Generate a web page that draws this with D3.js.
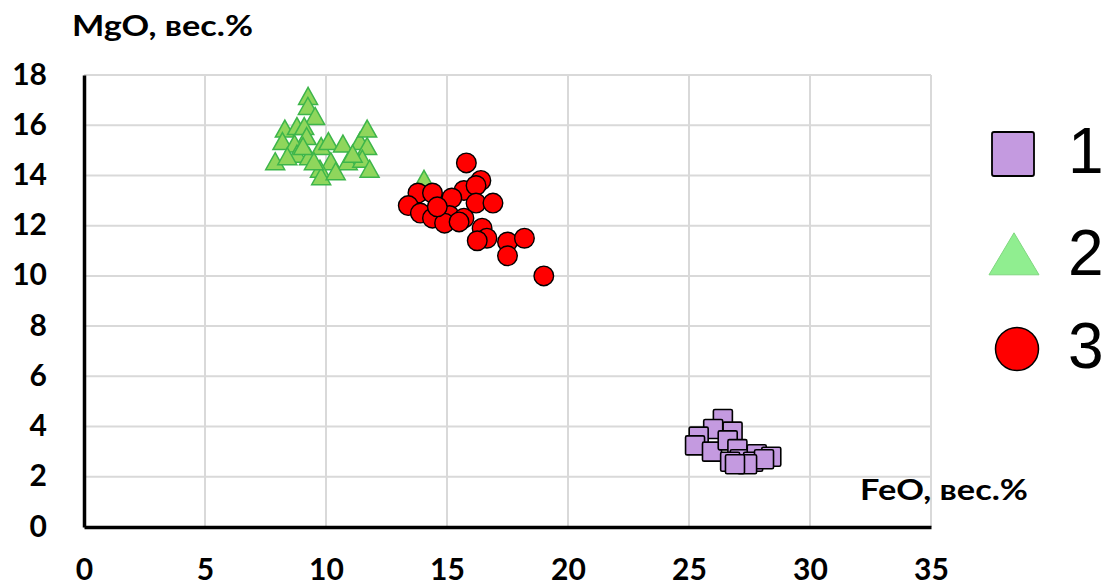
<!DOCTYPE html>
<html>
<head>
<meta charset="utf-8">
<script src="https://cdn.jsdelivr.net/npm/d3@7/dist/d3.min.js"></script>
<style>
  html, body { margin: 0; padding: 0; background: #fff; }
  svg { display: block; }
</style>
</head>
<body>
<svg id="chart" width="1111" height="586"></svg>
<script>
// FeO / MgO compositions (wt.%) for three groups
const series1FeO = [26.4, 26.8, 26.0, 25.4, 25.25, 25.95, 26.6, 27.0, 27.1, 26.7, 27.8, 27.65, 28.4, 28.1, 27.4, 26.9];
const series1MgO = [4.3, 3.8, 3.9, 3.6, 3.25, 3.0, 3.45, 3.1, 2.7, 2.6, 2.9, 2.6, 2.8, 2.7, 2.5, 2.5];

const series2FeO = [9.26, 9.25, 9.55, 8.3, 8.8, 9.1, 9.2, 8.2, 8.7, 7.9, 8.8, 9.3, 9.8, 10.1, 10.7, 10.2, 10.9, 9.75, 9.8, 11.4, 11.7, 11.7, 11.5, 11.8, 9.5, 8.4, 10.4, 9.05, 11.1, 14.05];
const series2MgO = [17.1, 16.7, 16.3, 15.8, 15.9, 15.9, 15.5, 15.3, 15.2, 14.5, 14.8, 14.7, 15.1, 15.3, 15.2, 14.5, 14.5, 14.2, 13.9, 15.3, 15.8, 15.1, 14.6, 14.2, 14.5, 14.7, 14.1, 15.1, 14.8, 13.8];

const series3FeO = [15.8, 16.4, 15.7, 16.2, 13.8, 14.4, 13.4, 13.9, 14.4, 15.2, 15.1, 14.9, 15.7, 15.5, 16.2, 16.9, 14.6, 16.45, 16.65, 16.25, 17.5, 18.2, 17.5, 19.0];
const series3MgO = [14.5, 13.8, 13.4, 13.6, 13.3, 13.3, 12.8, 12.5, 12.3, 13.1, 12.4, 12.1, 12.3, 12.15, 12.9, 12.9, 12.75, 11.9, 11.5, 11.4, 11.35, 11.5, 10.8, 10.0];

const xTicks = [0, 5, 10, 15, 20, 25, 30, 35];
const yTicks = [0, 2, 4, 6, 8, 10, 12, 14, 16, 18];
const legendLabels = ["1", "2", "3"];
const xTitle = "FeO, вес.%";
const yTitle = "MgO, вес.%";

const boldFont = "Lato, 'Open Sans', sans-serif";
const legendFont = "'Liberation Sans', Arial, sans-serif";

const svg = d3.select("#chart");
const x = d3.scaleLinear().domain([0, 35]).range([84, 931]);
const y = d3.scaleLinear().domain([0, 18]).range([527, 75]);

// gridlines
const grid = svg.append("g");
grid.selectAll(".vg").data(xTicks.slice(1)).join("line")
  .attr("x1", d => x(d)).attr("x2", d => x(d))
  .attr("y1", y(0)).attr("y2", y(18))
  .attr("stroke", "#d9d9d9").attr("stroke-width", 2);
grid.selectAll(".hg").data(yTicks.slice(1)).join("line")
  .attr("x1", x(0)).attr("x2", x(35))
  .attr("y1", d => y(d)).attr("y2", d => y(d))
  .attr("stroke", "#d9d9d9").attr("stroke-width", 2);

// axes
const xAxis = d3.axisBottom(x).tickValues(xTicks).tickSize(0).tickPadding(32);
const yAxis = d3.axisLeft(y).tickValues(yTicks).tickSize(0).tickPadding(37);
const gx = svg.append("g").attr("transform", `translate(0,${y(0)})`).call(xAxis);
const gy = svg.append("g").attr("transform", `translate(${x(0)},0)`).call(yAxis);
[gx, gy].forEach(g => {
  g.select(".domain").attr("stroke", "#000").attr("stroke-width", 3.5);
  g.selectAll("text")
    .style("font-family", boldFont).style("font-weight", 700).style("font-size", "30px")
    .attr("fill", "#000");
});
gy.selectAll("text").attr("dy", "0.3em");
gx.selectAll("text").attr("dy", "0.71em");

// axis titles
svg.append("text").attr("x", 72).attr("y", 36).text(yTitle)
  .style("font-family", boldFont).style("font-weight", 700).style("font-size", "28px")
  .attr("textLength", 181).attr("lengthAdjust", "spacingAndGlyphs").attr("fill", "#000");
svg.append("text").attr("x", 860).attr("y", 500).text(xTitle)
  .style("font-family", boldFont).style("font-weight", 700).style("font-size", "28px")
  .attr("textLength", 168).attr("lengthAdjust", "spacingAndGlyphs").attr("fill", "#000");

// markers
const sq = 19;
const triW = 19, triH = 17;
const triPath = (cx, cy, w, h) => `M${cx},${cy - h * 0.6}L${cx + w / 2},${cy + h * 0.4}L${cx - w / 2},${cy + h * 0.4}Z`;

svg.append("g").selectAll("rect").data(d3.range(series1FeO.length)).join("rect")
  .attr("x", i => x(series1FeO[i]) - sq / 2).attr("y", i => y(series1MgO[i]) - sq / 2)
  .attr("width", sq).attr("height", sq).attr("rx", 1.5)
  .attr("fill", "#c49ae0").attr("stroke", "#000").attr("stroke-width", 1.6);

svg.append("g").selectAll("path").data(d3.range(series2FeO.length)).join("path")
  .attr("d", i => triPath(x(series2FeO[i]), y(series2MgO[i]), triW, triH))
  .attr("fill", "#8fd65c").attr("stroke", "#3db54a").attr("stroke-width", 1.5);

svg.append("g").selectAll("circle").data(d3.range(series3FeO.length)).join("circle")
  .attr("cx", i => x(series3FeO[i])).attr("cy", i => y(series3MgO[i])).attr("r", 9.8)
  .attr("fill", "#ff0000").attr("stroke", "#000").attr("stroke-width", 1.4);

// legend
const lg = svg.append("g");
lg.append("rect").attr("x", 992).attr("y", 132).attr("width", 42).attr("height", 44).attr("rx", 2)
  .attr("fill", "#c49ae0").attr("stroke", "#000").attr("stroke-width", 1.8);
lg.append("path").attr("d", triPath(1014, 258, 50, 42))
  .attr("fill", "#90ee90").attr("stroke", "#7fd77f").attr("stroke-width", 1);
lg.append("circle").attr("cx", 1017).attr("cy", 349).attr("r", 21.5)
  .attr("fill", "#ff0000").attr("stroke", "#000").attr("stroke-width", 1.5);
lg.selectAll("text").data(legendLabels).join("text")
  .attr("x", 1068).attr("y", (d, i) => [173, 275, 368][i])
  .style("font-family", legendFont).style("font-size", "64px")
  .attr("fill", "#000").text(d => d);
</script>
</body>
</html>
